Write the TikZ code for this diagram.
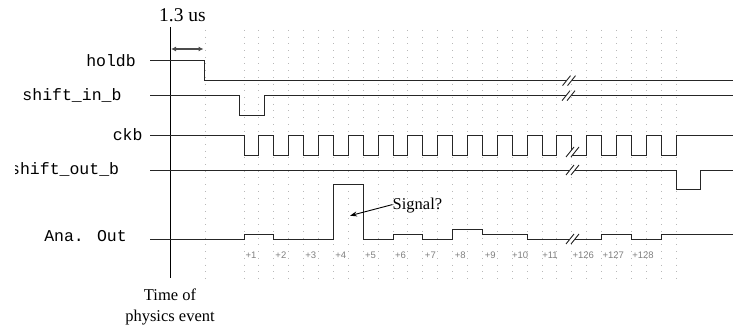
\documentclass[tikz,border=0pt]{standalone}
\usepackage{fontspec}
\setmainfont{Liberation Serif}
\newfontfamily\monofont{Liberation Mono}
\newfontfamily\labfont{Liberation Sans}
\usetikzlibrary{arrows.meta}
\begin{document}
\begin{tikzpicture}[x=1pt,y=-1pt,
  sig/.style={line width=1pt, draw=black!85, line join=miter},
  gridline/.style={draw=black!28, line width=0.9pt, dash pattern=on 0.9pt off 5.8pt},
  signame/.style={font=\monofont\fontsize{16.5}{18}\selectfont, anchor=base east, inner sep=0pt},
  tick/.style={font=\labfont\fontsize{9.5}{11}\selectfont, text=black!50, inner sep=0pt, anchor=base},
  serif/.style={font=\fontsize{16.5}{18}\selectfont, inner sep=0pt, anchor=base},
  brk/.pic={
    \fill[white] (-7,5) -- (1,-5) -- (6,-5) -- (-2,5) -- cycle;
    \draw[line width=0.9pt, black!85] (-7,5) -- (1,-5) (-2,5) -- (6,-5);
  },
]
\useasboundingbox (0,0) rectangle (733,329);

% dotted grid
\draw[gridline] (205,30) -- (205,279);
\foreach \k in {0,...,29} \draw[gridline] ({244+14.9*\k},30) -- ({244+14.9*\k},279);

% time axis
\draw[line width=1pt] (170,27) -- (170,278);

% labels
\node[serif, font=\fontsize{19.5}{21}\selectfont] (t13) at (182.5,22) {1.3 us};
\node[serif] (time1) at (170,300) {Time of};
\node[serif] (time2) at (170,321) {physics event};

\node[signame] (nhold) at (136,66.5) {holdb};
\node[signame] (nsin) at (121.7,100.5) {shift\_in\_b};
\node[signame] (nckb) at (142.7,140.5) {ckb};
\begin{scope}
  \clip (15,150) rectangle (150,190);
  \node[signame] (nsout) at (119.3,174.5) {shift\_out\_b};
\end{scope}
\node[signame] (nana) at (127,241.5) {Ana. Out};

% 1.3 us arrow
\coordinate (a1) at (171,49);
\coordinate (a2) at (203.5,49);
\draw[line width=1.1pt, black!70, {Latex[length=5pt,width=5pt]}-{Latex[length=5pt,width=5pt]}] (a1) -- (a2);

% holdb
\draw[sig] (150,60.7) -- (204.5,60.7) -- (204.5,80.7) -- (733,80.7);
% shift_in_b
\draw[sig] (150,95.7) -- (239,95.7) -- (239,115.3) -- (264,115.3) -- (264,95.7) -- (733,95.7);
% ckb
\draw[sig] (150,135) foreach \j in {0,...,14} { -- ({244+29.8*\j},135) -- ({244+29.8*\j},155) -- ({258.9+29.8*\j},155) -- ({258.9+29.8*\j},135) } -- (733,135);
% shift_out_b
\draw[sig] (150,170) -- (676.1,170) -- (676.1,189.5) -- (700,189.5) -- (700,170) -- (733,170);
% Ana. Out
\draw[sig] (150,239) -- (244,239) -- (244,234.3) -- (273.8,234.3) -- (273.8,239) -- (333.4,239) -- (333.4,184.3) -- (363.2,184.3) -- (363.2,239) -- (393,239) -- (393,234.3) -- (422.8,234.3) -- (422.8,239) -- (452.6,239) -- (452.6,229.3) -- (482.4,229.3) -- (482.4,234.3) -- (527.1,234.3) -- (527.1,239) -- (601.6,239) -- (601.6,234.3) -- (631.4,234.3) -- (631.4,239) -- (661.2,239) -- (661.2,234.3) -- (733,234.3);

% break marks
\pic at (569.5,80.7) {brk};
\pic at (569,95.7) {brk};
\pic at (573,152) {brk};
\pic at (573,170) {brk};
\pic at (573,239) {brk};

% tick labels
\foreach \n in {1,...,11} \node[tick] at ({251+29.9*(\n-1)},258.3) {+\n};
\node[tick] (t126) at (583.3,258.3) {+126};
\node[tick] (t127) at (613.3,258.3) {+127};
\node[tick] (t128) at (643,258.3) {+128};

% Signal? annotation
\node[serif, anchor=base west] (sigq) at (392.5,209.5) {Signal?};
\coordinate (sigtip) at (350,215.7);
\draw[line width=0.9pt, -{Stealth[length=7pt,width=5pt]}] (sigq.west) ++(0,-1) -- (sigtip);
\end{tikzpicture}
\end{document}
